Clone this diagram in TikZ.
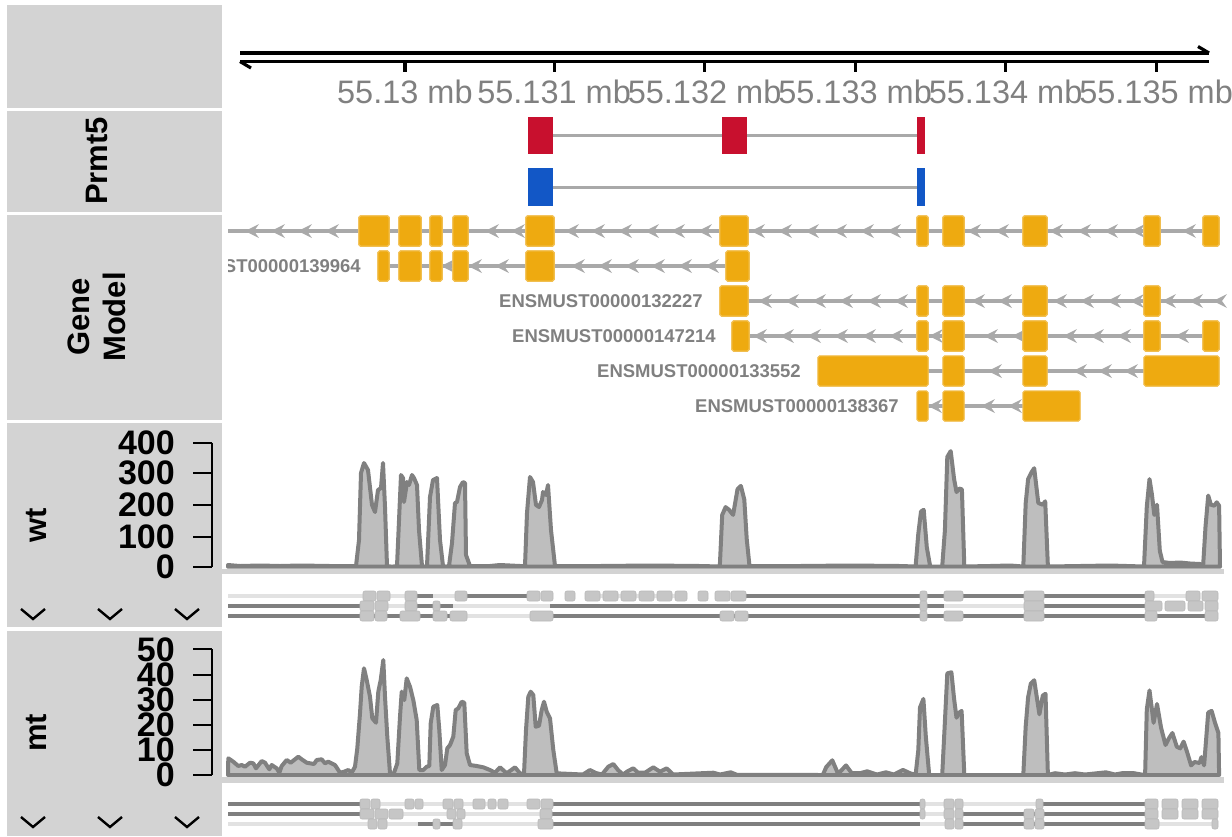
\documentclass[tikz,border=0pt]{standalone}
\usepackage{fontspec}
\setmainfont{Liberation Sans}
\definecolor{panelgray}{HTML}{D3D3D3}
\definecolor{exo}{HTML}{EEAA10}
\definecolor{exob}{HTML}{F3C45E}
\definecolor{prred}{HTML}{C8102E}
\definecolor{prblue}{HTML}{1257C6}
\definecolor{lgray}{HTML}{A9A9A9}
\definecolor{covfill}{HTML}{BEBEBE}
\definecolor{covline}{HTML}{808080}
\definecolor{labgray}{HTML}{808080}
\definecolor{rlightc}{HTML}{E2E2E2}
\definecolor{rdarkc}{HTML}{7F7F7F}
\definecolor{rboxc}{HTML}{C6C6C6}
\definecolor{rboxd}{HTML}{B8B8B8}
\newcommand\garr[2]{\fill[lgray] (#1,#2) -- ++(14,-7) -- ++(-5,7) -- ++(5,7) -- cycle;}
\begin{document}
\begin{tikzpicture}[x=1pt,y=-1pt,
  panel/.style={fill=panelgray},
  title/.style={inner sep=0pt, font=\fontsize{31}{36}\selectfont\bfseries, align=center},
  axisl/.style={draw=black, line width=3.2pt},
  axlab/.style={inner sep=0pt, text=labgray, font=\fontsize{32.5}{34}\selectfont},
  tline/.style={draw=lgray, line width=3pt},
  gline/.style={draw=lgray, line width=3.4pt},
  ex/.style={fill=exo, draw=exob, line width=0.8pt, rounded corners=1.5pt},
  glab/.style={inner sep=0pt, anchor=east, text=labgray, font=\fontsize{18.5}{20}\selectfont\bfseries},
  ynum/.style={inner sep=0pt, anchor=east, font=\fontsize{34}{36}\selectfont\bfseries},
  ytick/.style={draw=black, line width=2.2pt},
  chev/.style={draw=black, line width=2.4pt},
  cov/.style={fill=covfill, draw=covline, line width=4pt, line join=round},
  covbar/.style={fill=panelgray},
  rlight/.style={draw=rlightc, line width=3.5pt},
  rdark/.style={draw=rdarkc, line width=3.5pt},
  rbox/.style={fill=rboxc, draw=rboxd, line width=0.6pt, rounded corners=2pt}
]
\useasboundingbox (0,0) rectangle (1232,836);
% ---------- left title panels ----------
\fill[panel] (7,5) rectangle (222,108);
\fill[panel] (7,111) rectangle (222,212);
\fill[panel] (7,215) rectangle (222,420);
\fill[panel] (7,423) rectangle (222,627);
\fill[panel] (7,631) rectangle (222,836);
\node[title, rotate=90] (tprmt) at (97,161) {Prmt5};
\node[title, rotate=90] (tgene) at (97,317) {Gene\\Model};
\node[title, rotate=90] (twt) at (37,525) {wt};
\node[title, rotate=90] (tmt) at (37,733) {mt};
% ---------- genome axis ----------
\draw[axisl] (240,53) -- (1209,53);
\draw[axisl] (1209,53) -- (1198,46.5);
\draw[axisl] (240,61.5) -- (1209,61.5);
\draw[axisl] (240,61.5) -- (251,68);
\foreach \x/\t [count=\i] in {404.9/55.13 mb,554.1/55.131 mb,704.6/55.132 mb,855.1/55.133 mb,1005.6/55.134 mb,1156.1/55.135 mb}{
  \draw[axisl] (\x,61) -- (\x,72);
  \node[axlab] (ax\i) at (\x,92) {\t};
}
% ---------- Prmt5 track ----------
\draw[tline] (553,135) -- (917,135);
\fill[prred] (528,117) rectangle (553,154);
\fill[prred] (722,117) rectangle (747,154);
\fill[prred] (917,117) rectangle (925,154);
\draw[tline] (553,187) -- (917,187);
\fill[prblue] (528,168) rectangle (553,206);
\fill[prblue] (917,168) rectangle (925,206);
% ---------- Gene model ----------
% row A
\draw[gline] (228,231) -- (1220,231);
\foreach \x in {245,271,298,325,485,511,565,591,618,645,671,698,751,778,805,833,860,887,967,995,1049,1077,1104,1131,1182} \garr{\x}{231}
\foreach \a/\b in {359/389,399/421,430/442,453/468,526/554,720/748,917/928,943/964,1023/1047,1144/1160,1203/1219} \filldraw[ex] (\a,216) rectangle (\b,246);
% row B
\draw[gline] (389,266) -- (726,266);
\foreach \x in {441,468,495,571,598,625,651,678,705} \garr{\x}{266}
\foreach \a/\b in {378/389,399/421,430/442,453/468,526/554,726/749} \filldraw[ex] (\a,251) rectangle (\b,281);
\begin{scope}
  \clip (228,250) rectangle (720,284);
  \node[glab] (lbB) at (361,266) {ENSMUST00000139964};
\end{scope}
% row C
\draw[gline] (748,301) -- (1220,301);
\foreach \x in {758,785,812,839,867,894,971,998,1053,1080,1107,1130,1162,1189,1213} \garr{\x}{301}
\foreach \a/\b in {720/748,917/928,943/964,1023/1047,1144/1160} \filldraw[ex] (\a,286) rectangle (\b,316);
\node[glab] (lbC) at (703,301) {ENSMUST00000132227};
% row D
\draw[gline] (749,336) -- (1203,336);
\foreach \x in {753,780,807,834,862,889,929,984,1012,1063,1090,1117,1175} \garr{\x}{336}
\foreach \a/\b in {732/749,917/928,943/964,1023/1047,1144/1160,1203/1219} \filldraw[ex] (\a,321) rectangle (\b,351);
\node[glab] (lbD) at (716,336) {ENSMUST00000147214};
% row E
\draw[gline] (928,371) -- (1144,371);
\foreach \x in {988,1073,1098,1124} \garr{\x}{371}
\foreach \a/\b in {818/928,943/964,1023/1047,1144/1219} \filldraw[ex] (\a,356) rectangle (\b,386);
\node[glab] (lbE) at (801,371) {ENSMUST00000133552};
% row F
\draw[gline] (928,406) -- (1023,406);
\foreach \x in {928,981,1008} \garr{\x}{406}
\foreach \a/\b in {917/928,943/964,1023/1080} \filldraw[ex] (\a,391) rectangle (\b,421);
\node[glab] (lbF) at (899,406) {ENSMUST00000138367};
% ---------- wt coverage ----------
\foreach \y/\t [count=\i] in {442.7/400,473.3/300,505/200,536.7/100,566.7/0}{
  \draw[ytick] (193,\y) -- (212,\y);
  \node[ynum] (wn\i) at (175,\y) {\t};
}
\draw[ytick] (212,442.7) -- (212,566.7);
\filldraw[cov] plot coordinates {(228,566.7) (228,565) (240,566) (260,565.5) (280,566) (300,565.5) (330,566)
 (356,566) (359,540) (361,473) (364,463) (368,470) (372,505) (375,512) (378,490) (381,488) (383,463) (385,507) (387,566) (392,566.7)
 (397,566) (401,475) (403,478) (404,502) (407,482) (409,485) (412,475) (414,478) (417,485) (419,530) (422,566) (425,566.7)
 (427,566) (430,497) (433,480) (437,478) (440,540) (443,566) (446,566.7)
 (449,566) (452,543) (455,503) (457,502) (460,487) (463,482) (465,483) (466,555) (470,566) (490,566) (500,565) (520,566)
 (525,566) (527,513) (530,477) (533,482) (536,505) (539,507) (542,500) (543,492) (546,495) (548,485) (551,530) (555,566)
 (600,566) (650,565.5) (700,566)
 (719.8,566.5) (722.2,514.9) (725.6,507.1) (729,509.8) (733.1,514.9) (737.5,489.3) (740.9,485.9) (744.3,499.6) (746.7,538.8) (749.5,566)
 (800,566) (850,565.5) (900,566)
 (915.6,566.5) (918.3,533.7) (921,511.5) (923.7,509.8) (926.8,547.3) (930.2,566.5) (936,566.5)
 (942.2,566.5) (944.9,530.3) (947.3,456.9) (950.7,451.1) (954.1,479.1) (956.5,492.1) (959.2,488.6) (961.9,489.3) (964.3,566.5)
 (990,566) (1010,565.5)
 (1023.3,566.5) (1025.7,503) (1028.1,479.1) (1031.5,472.3) (1034.2,468.2) (1038.3,503) (1042.8,504.7) (1045.2,501.3) (1047.9,566.5)
 (1080,566) (1110,565.5)
 (1144,566.5) (1146.8,506.4) (1149.5,479.1) (1151.9,494.4) (1154.3,514.9) (1157,504.7) (1159.8,550.7) (1162.5,562) (1170,563) (1180,562.5) (1190,563.5) (1200,564)
 (1203.1,566) (1205.5,526.8) (1208.2,495.5) (1210.9,504.7) (1214.3,505.7) (1216.7,502.3) (1219.1,505.7) (1220,566.7)} -- cycle;
\fill[covbar] (222,568.5) rectangle (1224,574);
% wt reads
\draw[rlight] (228,596) -- (363,596); \draw[rlight] (390,596) -- (405,596); \draw[rdark] (417,596) -- (433,596);
\draw[rlight] (433,596) -- (455,596); \draw[rdark] (467,596) -- (527,596); \draw[rlight] (585,596) -- (687,596);
\draw[rdark] (746,596) -- (1145,596); \draw[rlight] (1154,596) -- (1186,596);
\foreach \a/\b in {363/376,377/390,405/417,455/467,527/540,541/553,565/575,585/600,603/618,621/636,639/654,657/672,675/687,698/708,715/730,731/746,920/927,944/963,1024/1044,1145/1154,1186/1200,1202/1218} \filldraw[rbox] (\a,591) rectangle (\b,601);
\draw[rdark] (228,606) -- (360,606); \draw[rlight] (388,606) -- (405,606); \draw[rdark] (417,606) -- (453,606);
\draw[rlight] (453,606) -- (550,606); \draw[rdark] (550,606) -- (944,606); \draw[rlight] (944,606) -- (1024,606); \draw[rdark] (1044,606) -- (1145,606);
\foreach \a/\b in {360/374,375/388,405/417,433/440,920/927,1024/1044,1145/1162,1165/1185,1188/1203,1205/1218} \filldraw[rbox] (\a,601) rectangle (\b,611);
\draw[rdark] (228,616) -- (467,616); \draw[rlight] (467,616) -- (530,616); \draw[rdark] (553,616) -- (1218,616);
\foreach \a/\b in {360/374,375/387,400/420,433/447,450/467,530/553,720/734,735/748,920/927,944/963,1024/1044,1145/1157,1205/1218} \filldraw[rbox] (\a,611) rectangle (\b,621);
% ---------- mt coverage ----------
\foreach \y/\t [count=\i] in {649.3/50,675/40,700/30,725/20,750/10,775/0}{
  \draw[ytick] (193,\y) -- (212,\y);
  \node[ynum] (mn\i) at (175,\y) {\t};
}
\draw[ytick] (212,649.3) -- (212,775);
\filldraw[cov] plot coordinates {(228,775) (228.3,758.3) (233.3,761.7) (238.3,766) (241.7,765) (245,766.7) (250,762.7) (253.3,763.3) (256,768.3) (261.7,761) (265,762.7) (269.3,769.3) (271.7,765) (276.7,768.3) (279.3,772.7) (281.7,766) (286.7,760) (290.7,762.7) (298.3,756.7) (301.7,759.3) (306.7,762.7) (314,764) (316.7,760) (321.7,759.3) (325,763.3) (328.3,761.7) (335,765) (340,772.7) (344,771.7) (348.3,770) (351.7,772.7) (355,766.7)
 (357.3,748.3) (360,713.3) (361.7,686.7) (364,668.3) (366.7,680) (370,696.7) (372.3,718.3) (376,722.7) (378.3,691.7) (380.7,680) (383.3,660) (385,696.7) (387.3,736.7) (390,773.3) (393,775)
 (395,770) (397.3,763.3) (400,716.7) (401.7,691.7) (404.3,700) (406.7,678.3) (410,686.7) (413.3,700) (416.7,720) (419.3,770) (423.3,770) (426.7,766.7) (429.3,766)
 (430.7,723.3) (433.3,706.7) (437.3,705) (439.3,730) (441.7,770) (445,765) (447.3,748.3) (450,745) (453.3,736.7) (455.7,710) (458.3,708.3) (461.7,701.7) (464.3,702.7) (466.7,753.3) (470,765) (476.7,766) (483.3,767.3) (490,770) (495,772.7) (500,767.3) (506.7,773.3) (515,767.3) (520,773.3) (524,774)
 (526,730) (528.3,696.7) (530.7,691.7) (533.3,695) (535.7,726.7) (539,725.7) (541.7,710) (544,701.7) (546.7,711.7) (550,718.3) (553.3,750) (556.7,773.3)
 (583,774.5) (590,770) (596,773) (602,774.5) (608.3,766.7) (613.3,764) (618,770) (623,774.5) (628,771) (633.3,768.3) (638,772.7) (645,772.7) (653.3,767.3) (660,771.7) (666.7,768.3) (673,774.5) (713.3,772.7) (720,774.5) (730.7,772.3) (737,774.8) (822.8,775) (826.2,767.1) (832.3,760.3) (838.1,773.9) (846,765.4) (851.8,773.2) (860,773.2) (867.1,771.3) (877,774.5) (885.9,772.3) (894,774.5) (902.9,769.9) (910,773.2) (914,774.5)
 (915.6,775) (918.3,750.1) (920,707.4) (923.4,698.9) (925.8,736.4) (929.2,775)
 (942.2,775) (944.5,729.6) (947.3,673.3) (951.4,672.3) (954.1,698.9) (956.5,717.7) (959.2,712.6) (961.6,710.9) (964.3,775)
 (1023.3,775) (1025.7,726.2) (1028.1,697.2) (1030.8,683.6) (1034.2,680.2) (1039.4,714.3) (1042.8,695.5) (1045.5,693.8) (1047.9,775)
 (1055,773.2) (1065,774.5) (1075,773.2) (1085,774.5) (1105.9,772.3) (1115,774.5) (1122,773.2) (1134,773.2) (1143,774.8)
 (1145.1,775) (1146.8,709.2) (1149.5,690.4) (1153.6,722.8) (1157,704) (1161.1,727.9) (1165.5,745) (1169,738.2) (1172.4,733) (1176.8,746.7) (1180.2,748.4) (1183.6,741.6) (1187,751.8) (1191.1,765.4) (1194.5,762) (1199.6,763) (1201.4,757.1) (1204.1,765.4) (1208.2,712.6) (1211.6,710.9) (1215,722.8) (1218.4,733) (1219.1,775)} -- cycle;
\fill[covbar] (222,777) rectangle (1224,782.5);
% mt reads
\draw[rdark] (228,804) -- (360,804); \draw[rlight] (380,804) -- (527,804); \draw[rdark] (553,804) -- (920,804);
\draw[rlight] (925,804) -- (1036,804); \draw[rdark] (1043,804) -- (1145,804);
\foreach \a/\b in {360/370,371/380,405/414,415/423,443/453,454/463,473/485,488/496,498/508,527/540,541/553,920/925,944/954,955/963,1036/1043,1145/1158,1162/1178,1182/1198,1202/1218} \filldraw[rbox] (\a,799) rectangle (\b,809);
\draw[rdark] (228,814) -- (360,814); \draw[rlight] (403,814) -- (540,814); \draw[rdark] (552,814) -- (920,814);
\draw[rlight] (925,814) -- (944,814); \draw[rdark] (963,814) -- (1145,814);
\foreach \a/\b in {360/374,375/388,389/403,447/456,457/465,540/552,920/925,944/954,955/963,1024/1034,1035/1044,1145/1158,1162/1178,1182/1198,1202/1218} \filldraw[rbox] (\a,809) rectangle (\b,819);
\draw[rlight] (228,824) -- (418,824); \draw[rdark] (418,824) -- (453,824); \draw[rlight] (462,824) -- (538,824);
\draw[rdark] (553,824) -- (920,824); \draw[rlight] (920,824) -- (945,824); \draw[rdark] (963,824) -- (1145,824); \draw[rlight] (1159,824) -- (1212,824);
\foreach \a/\b in {368/377,378/387,433/440,453/462,538/553,945/954,955/963,1024/1034,1035/1044,1145/1159,1212/1218} \filldraw[rbox] (\a,819) rectangle (\b,829);
% ---------- chevrons ----------
\foreach \x in {33,110,187}{
  \draw[chev] (\x-12,609) -- (\x,619) -- (\x+12,609);
  \draw[chev] (\x-12,817) -- (\x,827) -- (\x+12,817);
}
\end{tikzpicture}
\end{document}
